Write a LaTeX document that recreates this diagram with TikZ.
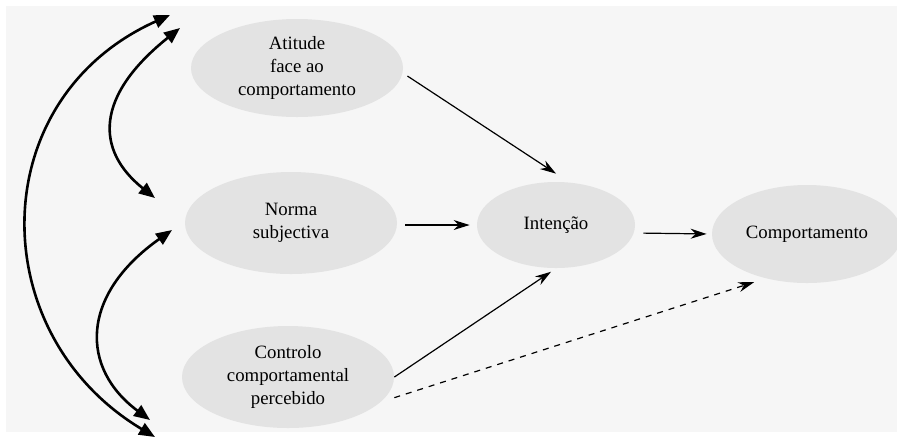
\documentclass[tikz,border=0pt]{standalone}
\usepackage{fontspec}
\setmainfont{Liberation Serif}
\usetikzlibrary{shapes.geometric,arrows.meta}

\begin{document}
\begin{tikzpicture}[x=0.5pt,y=-0.5pt,
  fator/.style={ellipse,fill=gray!22,inner sep=0pt,align=center,
    font=\fontsize{9.4}{11.3}\selectfont},
  seta/.style={-{Stealth[length=8pt,width=5pt]},line width=0.6pt},
  curva/.style={{Triangle[length=8pt,width=6.5pt]}-{Triangle[length=8pt,width=6.5pt]},line width=1.3pt}]
\useasboundingbox (0,0) rectangle (897,441);
\fill[gray!7] (6,6) rectangle (897,432);
% factores
\node[fator,minimum width=106pt,minimum height=49pt] (atitude) at (297,68) {Atitude\\face ao\\comportamento};
\node[fator,minimum width=106pt,minimum height=51pt] (norma) at (291,223) {Norma\\subjectiva};
\node[fator,minimum width=106pt,minimum height=51pt] (controlo) at (288,377) {Controlo\\comportamental\\percebido};
\node[fator,minimum width=79pt,minimum height=43pt] (intencao) at (556,225) {Intenção};
\node[fator,minimum width=95pt,minimum height=49pt] (comp) at (807,234) {Comportamento};
% setas
\draw[seta] ([xshift=2pt,yshift=-4pt]atitude.east) -- ([yshift=4pt]intencao.north);
\draw[seta,shorten <=4pt,shorten >=3.5pt] ([yshift=-1pt]norma.east) -- (intencao.west);
\draw[seta,shorten >=3pt] (controlo.east) -- (intencao.south);
\draw[seta,shorten <=4pt,shorten >=2.5pt] ([yshift=-4pt]intencao.east) -- (comp.west);
\draw[seta,dashed,shorten <=7pt,shorten >=6pt] (controlo.-15) -- (comp.227);
% correlacoes
\coordinate (topo1) at (170,15);
\coordinate (base1) at (155,437);
\coordinate (topo2) at (180,28);
\coordinate (base2) at (155,198);
\coordinate (topo3) at (172,230);
\coordinate (base3) at (150,420);
\draw[curva] (topo1) .. controls (-17,99) and (-17,334) .. (base1);
\draw[curva] (topo2) .. controls (95,96) and (95,150) .. (base2);
\draw[curva] (topo3) .. controls (80,295) and (80,368) .. (base3);
\end{tikzpicture}
\end{document}
